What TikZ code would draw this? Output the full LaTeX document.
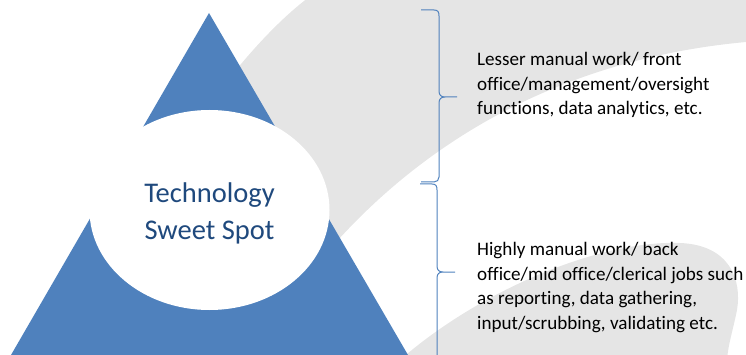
\documentclass[tikz,border=0pt]{standalone}
\usepackage{fontspec}
\setmainfont[Ligatures={NoCommon,NoContextual}]{Carlito}
\usetikzlibrary{shapes.geometric}
\definecolor{pyramid}{HTML}{4F81BD}
\definecolor{spotblue}{HTML}{1F497D}
\tikzset{
  swoosh/.style={fill=black!10},
  bracket/.style={draw=pyramid, line width=1pt},
  jobs/.style={anchor=base west, align=left, inner sep=0pt, font=\fontsize{19.1}{24.5}\selectfont},
}

\begin{document}
\begin{tikzpicture}[x=1pt,y=-1pt]
  \useasboundingbox (0,0) rectangle (746,355);
  % grey swooshes behind everything
  \fill[swoosh] (312,-5) .. controls (270,25) and (215,90) .. (180,150) -- (300,300) -- (338,240)
    .. controls (420,150) and (550,60) .. (746,42) -- (746,-5) -- cycle;
  \fill[swoosh] (400,360) .. controls (480,290) and (600,240) .. (680,243)
    .. controls (730,245) and (742,280) .. (737,310) .. controls (733,330) and (728,345) .. (727,360) -- cycle;

  \fill[pyramid] (209,13) -- (11,355) -- (408,355) -- cycle;
  \node[ellipse, fill=white, minimum width=240pt, minimum height=200pt, inner sep=0pt] (spot) at (209.5,210) {};
  \node[align=center, text=spotblue, font=\fontsize{28.5}{37}\selectfont] (label) at (209.5,213.5) {Technology\\Sweet Spot};

  \coordinate (top1) at (421,10);
  \coordinate (tip1) at (457,97);
  \coordinate (bot1) at (421,182);
  \coordinate (top2) at (420,184);
  \coordinate (tip2) at (455,272);
  \coordinate (bot2) at (437,360);

  \draw[bracket] (top1) -- (434,10) .. controls (438,10) and (439,12) .. (439,16) -- (439,91)
    .. controls (439,95) and (441,97) .. (445,97) -- (tip1)
    (445,97) .. controls (441,97) and (439,99) .. (439,103) -- (439,177)
    .. controls (439,180) and (437,182) .. (434,182) -- (bot1);
  \draw[bracket] (top2) -- (432,184) .. controls (436,184) and (437,186) .. (437,190) -- (437,266)
    .. controls (437,270) and (439,272) .. (443,272) -- (tip2)
    (443,272) .. controls (439,272) and (437,274) .. (437,278) -- (bot2);

  % base of a multi-line node sits on its last line
  \node[jobs] (front) at (477,115) {Lesser manual work/ front\\office/management/oversight\\functions, data analytics, etc.};
  \node[jobs] (back) at (477,329) {Highly manual work/ back\\office/mid office/clerical jobs such\\as reporting, data gathering,\\input/scrubbing, validating etc.};
\end{tikzpicture}
\end{document}
